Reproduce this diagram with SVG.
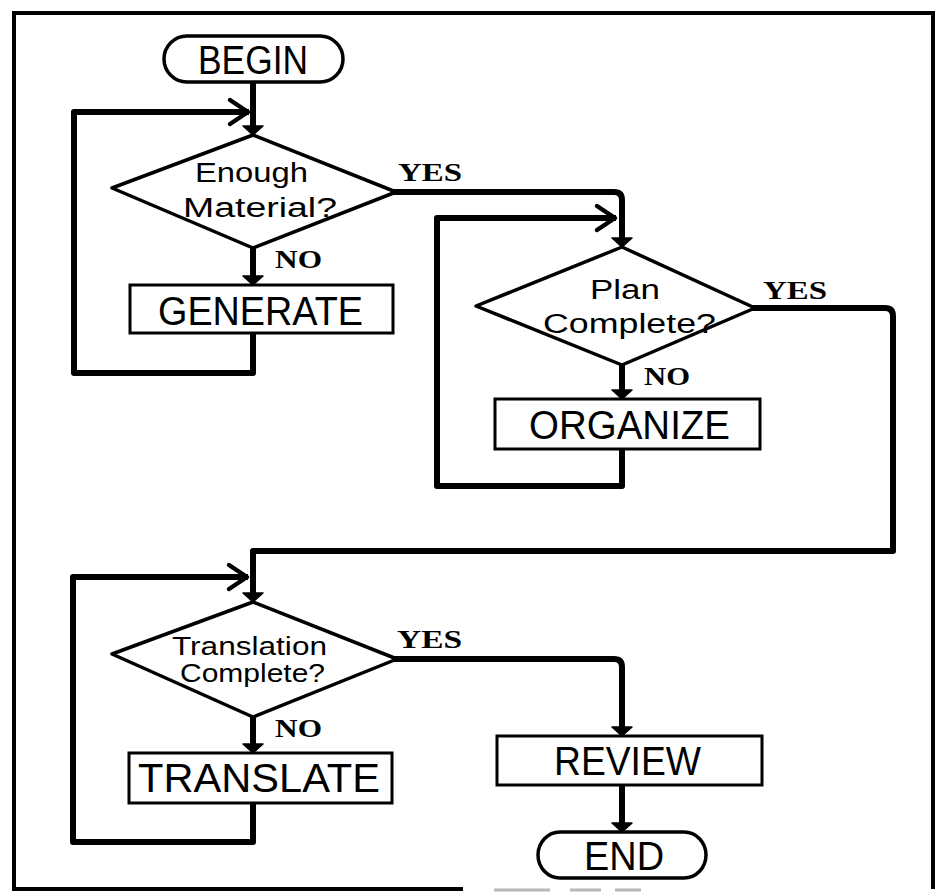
<svg xmlns="http://www.w3.org/2000/svg" xmlns:xlink="http://www.w3.org/1999/xlink" width="945" height="894" viewBox="0 0 945 894">
  <style>
    .frame { fill: none; stroke: #000; stroke-width: 4; }
    .faint { fill: none; stroke: #b8b8b8; stroke-width: 3; }
    .shape { fill: #fff; stroke: #000; stroke-width: 3.5; stroke-linejoin: round; }
    .box { fill: #fff; stroke: #000; stroke-width: 3; }
    .flow { fill: none; stroke: #000; stroke-width: 6; stroke-linejoin: round; stroke-linecap: square; }
    .head { fill: #000; stroke: #000; stroke-width: 1.5; stroke-linejoin: round; }
    .chev { fill: none; stroke: #000; stroke-width: 4.5; stroke-linecap: round; stroke-linejoin: round; }
    .big { font-family: "Liberation Sans", Arial, sans-serif; font-size: 40px; fill: #000; }
    .q { font-family: "Liberation Sans", Arial, sans-serif; font-size: 27px; fill: #000; }
    .q2 { font-family: "Liberation Sans", Arial, sans-serif; font-size: 25px; fill: #000; }
    .lbl { font-family: "Liberation Serif", "Times New Roman", serif; font-weight: bold; font-size: 25px; fill: #000; }
  </style>
  <defs>
    <!-- filled head, tip at origin, pointing down -->
    <path id="ah-down" d="M-10,-9 L10,-9 L0,0 Z"/>
    <!-- open chevron head, tip at origin, pointing right -->
    <path id="ah-right" d="M-18,-12 L0,0 L-18,12"/>
  </defs>

  <rect width="945" height="894" fill="#fff"/>

  <!-- page frame -->
  <g id="frame">
    <path class="frame" d="M463,889 H14 V13 H933 V889"/>
    <path class="faint" d="M494,890 H550 M570,890 H601 M615,890 H641"/>
  </g>

  <!-- connectors -->
  <g id="connectors">
    <!-- BEGIN to first test -->
    <path class="flow" d="M253,82 V127"/>
    <use href="#ah-down" class="head" x="253" y="135"/>
    <!-- Enough Material? NO to GENERATE -->
    <path class="flow" d="M253,248 V277"/>
    <use href="#ah-down" class="head" x="253" y="285"/>
    <!-- GENERATE loop back -->
    <path class="flow" d="M253,333 V373 H74 V112 H246"/>
    <use href="#ah-right" class="chev" x="248" y="112"/>

    <!-- Enough Material? YES to Plan Complete? -->
    <path class="flow" d="M396,192 H614 Q622,192 622,200 V239"/>
    <use href="#ah-down" class="head" x="622" y="247"/>
    <!-- Plan Complete? NO to ORGANIZE -->
    <path class="flow" d="M622,365 V391"/>
    <use href="#ah-down" class="head" x="622" y="399"/>
    <!-- ORGANIZE loop back -->
    <path class="flow" d="M622,449 V486 H437 V218 H613"/>
    <use href="#ah-right" class="chev" x="615" y="218"/>

    <!-- Plan Complete? YES to Translation Complete? -->
    <path class="flow" d="M755,308 H885 Q893,308 893,316 V551 H253 V594"/>
    <use href="#ah-down" class="head" x="253" y="602"/>
    <!-- Translation Complete? NO to TRANSLATE -->
    <path class="flow" d="M253,717 V745"/>
    <use href="#ah-down" class="head" x="253" y="753"/>
    <!-- TRANSLATE loop back -->
    <path class="flow" d="M253,803 V842 H73 V577 H245"/>
    <use href="#ah-right" class="chev" x="247" y="577"/>

    <!-- Translation Complete? YES to REVIEW -->
    <path class="flow" d="M397,659 H614 Q622,659 622,667 V728"/>
    <use href="#ah-down" class="head" x="622" y="736"/>
    <!-- REVIEW to END -->
    <path class="flow" d="M622,785 V824"/>
    <use href="#ah-down" class="head" x="622" y="832"/>

    <!-- branch labels -->
    <text class="lbl" x="398" y="181" textLength="64" lengthAdjust="spacingAndGlyphs">YES</text>
    <text class="lbl" x="275" y="268" textLength="47" lengthAdjust="spacingAndGlyphs">NO</text>
    <text class="lbl" x="763" y="299" textLength="64" lengthAdjust="spacingAndGlyphs">YES</text>
    <text class="lbl" x="644" y="385" textLength="46" lengthAdjust="spacingAndGlyphs">NO</text>
    <text class="lbl" x="397" y="648" textLength="65" lengthAdjust="spacingAndGlyphs">YES</text>
    <text class="lbl" x="275" y="737" textLength="47" lengthAdjust="spacingAndGlyphs">NO</text>
  </g>

  <!-- nodes -->
  <g id="begin">
    <rect class="shape" x="164" y="36" width="179" height="46" rx="23" ry="23"/>
    <text class="big" x="198" y="74" textLength="110" lengthAdjust="spacingAndGlyphs">BEGIN</text>
  </g>

  <g id="enough-material">
    <polygon class="shape" points="253,135 396,192 253,248 112,188"/>
    <text class="q" x="195" y="182" textLength="113" lengthAdjust="spacingAndGlyphs">Enough</text>
    <text class="q" x="183" y="217" textLength="154" lengthAdjust="spacingAndGlyphs">Material?</text>
  </g>

  <g id="generate">
    <rect class="box" x="130" y="285" width="263" height="48"/>
    <text class="big" x="158" y="325" textLength="205" lengthAdjust="spacingAndGlyphs">GENERATE</text>
  </g>

  <g id="plan-complete">
    <polygon class="shape" points="622,247 755,308 622,365 476,306"/>
    <text class="q" x="590" y="299" textLength="70" lengthAdjust="spacingAndGlyphs">Plan</text>
    <text class="q" x="543" y="333" textLength="173" lengthAdjust="spacingAndGlyphs">Complete?</text>
  </g>

  <g id="organize">
    <rect class="box" x="495" y="399" width="265" height="50"/>
    <text class="big" x="529" y="439" textLength="201" lengthAdjust="spacingAndGlyphs">ORGANIZE</text>
  </g>

  <g id="translation-complete">
    <polygon class="shape" points="253,602 397,659 253,717 112,654"/>
    <text class="q2" x="172" y="655" textLength="155" lengthAdjust="spacingAndGlyphs">Translation</text>
    <text class="q2" x="180" y="682" textLength="145" lengthAdjust="spacingAndGlyphs">Complete?</text>
  </g>

  <g id="translate">
    <rect class="box" x="129" y="753" width="263" height="50"/>
    <text class="big" x="138" y="792" textLength="242" lengthAdjust="spacingAndGlyphs">TRANSLATE</text>
  </g>

  <g id="review">
    <rect class="box" x="497" y="736" width="265" height="49"/>
    <text class="big" x="554" y="775" textLength="147" lengthAdjust="spacingAndGlyphs">REVIEW</text>
  </g>

  <g id="end">
    <rect class="shape" x="538" y="832" width="168" height="46" rx="22" ry="23"/>
    <text class="big" x="584" y="870" textLength="80" lengthAdjust="spacingAndGlyphs">END</text>
  </g>
</svg>
